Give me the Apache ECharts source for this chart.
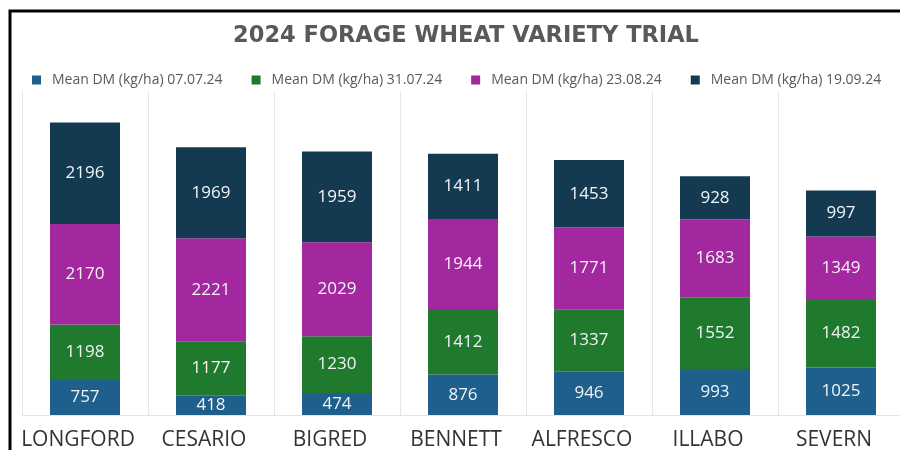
<!DOCTYPE html>
<html>
<head>
<meta charset="utf-8">
<script src="https://cdn.jsdelivr.net/npm/echarts@6/dist/echarts.min.js"></script>
<style>
  html, body { margin: 0; padding: 0; background: #fff; }
  #chart { width: 900px; height: 450px; }
</style>
</head>
<body>
<div id="chart"></div>
<script>
const varieties = ["LONGFORD", "CESARIO", "BIGRED", "BENNETT", "ALFRESCO", "ILLABO", "SEVERN"];
const seriesNames = [
  "Mean DM (kg/ha) 07.07.24",
  "Mean DM (kg/ha) 31.07.24",
  "Mean DM (kg/ha) 23.08.24",
  "Mean DM (kg/ha) 19.09.24"
];
const dm0707 = [757, 418, 474, 876, 946, 993, 1025];
const dm3107 = [1198, 1177, 1230, 1412, 1337, 1552, 1482];
const dm2308 = [2170, 2221, 2029, 1944, 1771, 1683, 1349];
const dm1909 = [2196, 1969, 1959, 1411, 1453, 928, 997];
const colors = ["#1e5f8c", "#1f7a2e", "#a3279f", "#143a52"];

const allData = [dm0707, dm3107, dm2308, dm1909];

const series = allData.map((values, i) => ({
  name: seriesNames[i],
  type: "bar",
  stack: "dm",
  barWidth: 70,
  itemStyle: { color: colors[i] },
  label: {
    show: true,
    position: "inside",
    color: "#f2f4f6",
    fontFamily: "Open Sans",
    fontSize: 17
  },
  data: values
}));

const option = {
  animation: false,
  title: {
    text: "2024 FORAGE WHEAT VARIETY TRIAL",
    left: 461,
    textAlign: "center",
    top: 20,
    textStyle: {
      fontFamily: "DejaVu Sans",
      fontWeight: "bold",
      fontSize: 22.5,
      color: "#595959"
    }
  },
  legend: {
    top: 68,
    left: 27,
    itemWidth: 9,
    itemHeight: 9,
    itemGap: 29,
    icon: "rect",
    textStyle: {
      fontFamily: "Open Sans",
      fontSize: 14,
      color: "#595959",
      padding: [0, 0, 0, 6]
    },
    data: seriesNames
  },
  grid: {
    left: 22,
    top: 91,
    width: 882,
    height: 324,
    containLabel: false,
    outerBoundsMode: "none"
  },
  xAxis: {
    type: "category",
    data: varieties,
    axisTick: { show: false },
    axisLine: { lineStyle: { color: "#e3e3e3" } },
    splitLine: { show: true, interval: 0, lineStyle: { color: "#e6e6e6" } },
    axisLabel: {
      interval: 0,
      margin: 15,
      padding: [0, 14, 0, 0],
      fontFamily: "Open Sans",
      fontSize: 21,
      color: "#333333"
    }
  },
  yAxis: {
    type: "value",
    min: 0,
    max: 7000,
    show: false,
    splitLine: { show: false }
  },
  graphic: [
    {
      type: "polyline",
      shape: { points: [[10, 450], [10, 11], [900, 11]] },
      style: { stroke: "#000", lineWidth: 3, fill: null },
      z: 100
    }
  ],
  series: series
};

const chart = echarts.init(document.getElementById("chart"));
chart.setOption(option);
</script>
</body>
</html>
